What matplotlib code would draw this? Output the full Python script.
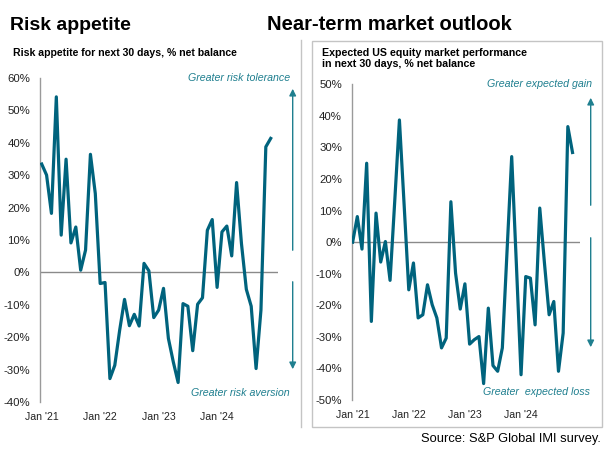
import matplotlib
matplotlib.use('Agg')

import matplotlib.pyplot as plt
import numpy as np
from matplotlib.lines import Line2D
from matplotlib.patches import Rectangle, FancyArrowPatch

plt.rcParams['font.family'] = ['Liberation Sans', 'DejaVu Sans']

# ---------------------------
# DATA (monthly, Jan 2021 - Dec 2024)
# ---------------------------
risk_appetite = [33.4, 30.0, 18.2, 54.1, 11.5, 34.9, 9.1, 14.0, 0.7, 6.9, 36.4, 24.3,
                 -3.4, -3.1, -32.7, -28.6, -17.8, -8.3, -16.4, -12.9, -16.5, 2.8, 0.5, -13.9,
                 -11.6, -4.9, -20.3, -27.5, -33.9, -9.6, -10.4, -24.1, -9.8, -7.8, 13.0, 16.3,
                 -4.6, 12.5, 14.3, 5.1, 27.7, 8.9, -5.2, -10.4, -29.6, -11.6, 38.7, 41.3]

market_outlook = [0.0, 8.1, -2.2, 25.0, -25.1, 9.2, -6.3, 0.2, -12.1, 13.0, 38.7, 12.0,
                  -15.1, -6.6, -24.0, -23.0, -13.5, -19.8, -24.0, -33.5, -30.4, 12.8, -9.8, -21.2,
                  -13.2, -32.3, -30.9, -29.9, -44.8, -20.9, -39.1, -40.9, -33.5, -3.0, 27.1, -7.0,
                  -42.0, -10.9, -11.4, -26.2, 10.8, -6.6, -23.0, -18.8, -40.9, -28.8, 36.6, 28.4]

tick_pos = [0, 12, 24, 36]
tick_labels = ["Jan '21", "Jan '22", "Jan '23", "Jan '24"]

LINE_COL = '#00637d'
ARROW_COL = '#1f7f8f'
W, H = 616, 455


def fp(x, y):
    # pixel (from top-left) -> figure fraction
    return x / W, 1 - y / H


def axes_box(l, t, r, b):
    return [l / W, 1 - b / H, (r - l) / W, (b - t) / H]


def style_axes(ax, yticks, xlim):
    ax.set_xlim(*xlim)
    ax.set_ylim(yticks[0], yticks[-1])
    ax.set_yticks(yticks)
    ax.set_yticklabels([f"{v}%" for v in yticks])
    ax.set_xticks(tick_pos)
    ax.set_xticklabels(tick_labels)
    for s in ['top', 'right', 'bottom']:
        ax.spines[s].set_visible(False)
    ax.spines['left'].set_color('#9a9a9a')
    ax.spines['left'].set_linewidth(1)
    ax.tick_params(length=0, pad=7, colors='#222222')
    ax.tick_params(axis='y', labelsize=8.2)
    ax.tick_params(axis='x', labelsize=7.6)
    ax.axhline(0, color='#8a8a8a', lw=1, zorder=1)


fig = plt.figure(figsize=(6.16, 4.55), dpi=100)

# ---------------------------
# LEFT: risk appetite
# ---------------------------
ax1 = fig.add_axes(axes_box(40, 77.7, 278, 402.3))
x1 = np.arange(len(risk_appetite))
ax1.plot(x1, risk_appetite, color=LINE_COL, lw=2.3, zorder=3)
style_axes(ax1, list(range(-40, 61, 10)), (-0.35, 48.5))

# ---------------------------
# RIGHT: market outlook
# ---------------------------
ax2 = fig.add_axes(axes_box(351.7, 84.3, 580, 400))
x2 = np.arange(len(market_outlook))
ax2.plot(x2, market_outlook, color=LINE_COL, lw=2.3, zorder=3)
style_axes(ax2, list(range(-50, 51, 10)), (-0.2, 48.6))

# ---------------------------
# TEXTS
# ---------------------------
fig.text(*fp(10, 25), "Risk appetite", fontsize=14, fontweight='bold', va='center')
fig.text(*fp(267, 25), "Near-term market outlook", fontsize=14.5, fontweight='bold', va='center')
fig.text(*fp(12.7, 53.5), "Risk appetite for next 30 days, % net balance",
         fontsize=7.6, fontweight='bold', va='center')
fig.text(*fp(321.7, 48), "Expected US equity market performance\nin next 30 days, % net balance",
         fontsize=7.7, fontweight='bold', va='top', linespacing=1.15)
fig.text(*fp(601, 439), "Source: S&P Global IMI survey.", fontsize=9.3, ha='right', va='center')

ann = dict(fontsize=7.7, style='italic', color=ARROW_COL, ha='right', va='center')
fig.text(*fp(290, 77.7), "Greater risk tolerance", **ann)
fig.text(*fp(290, 393), "Greater risk aversion", **ann)
fig.text(*fp(592, 84), "Greater expected gain", **ann)
fig.text(*fp(590, 392), "Greater  expected loss", **ann)

# ---------------------------
# ARROWS
# ---------------------------
arrows = [((292.7, 253), (292.7, 86)), ((292.7, 279), (292.7, 372)),
          ((590.7, 208), (590.7, 95)), ((590.7, 235), (590.7, 350))]
for start, end in arrows:
    fig.add_artist(FancyArrowPatch(
        fp(*start), fp(*end), transform=fig.transFigure,
        arrowstyle='-|>', mutation_scale=10, color=ARROW_COL, lw=1))

# ---------------------------
# PANEL FRAMES
# ---------------------------
fig.add_artist(Line2D([300.5 / W, 300.5 / W], [1 - 40 / H, 1 - 427 / H],
                      color='#c4c4c4', lw=1, transform=fig.transFigure))
fig.add_artist(Rectangle(fp(312, 427), (602 - 312) / W, (427 - 41) / H,
                         fill=False, edgecolor='#c4c4c4', lw=1, transform=fig.transFigure))

fig.savefig('out.png', dpi=100)
